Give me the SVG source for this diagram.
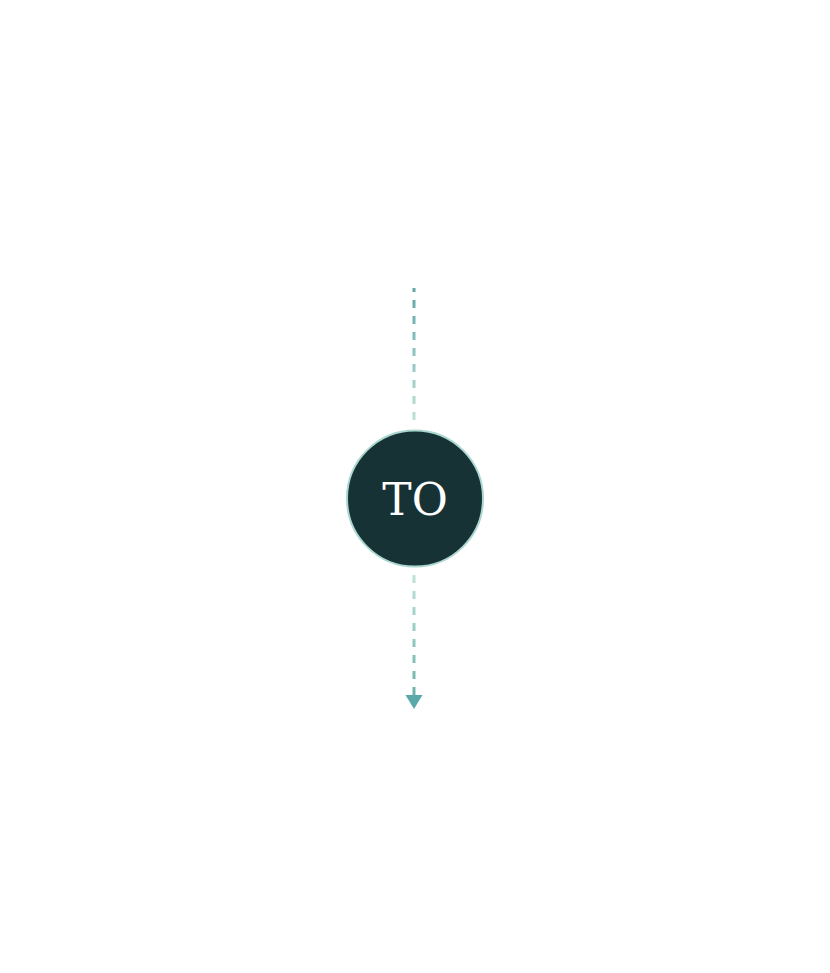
<svg xmlns="http://www.w3.org/2000/svg" width="830" height="973" viewBox="0 0 830 973">
  <style>
    .conn { fill: none; stroke-width: 3; stroke-dasharray: 8 8; }
    .node-circle { fill: #173235; stroke: #a9d6cf; stroke-width: 2; }
    .node-label { font-family: "DejaVu Serif", serif; font-size: 44px; fill: #ffffff; text-anchor: middle; }
    .arrowhead { fill: #5aa8a8; }
  </style>
  <defs>
    <linearGradient id="gTop" gradientUnits="userSpaceOnUse" x1="0" y1="288" x2="0" y2="424">
      <stop offset="0" stop-color="#5ea7a6"/>
      <stop offset="1" stop-color="#bfe3da"/>
    </linearGradient>
    <linearGradient id="gBot" gradientUnits="userSpaceOnUse" x1="0" y1="575" x2="0" y2="690">
      <stop offset="0" stop-color="#bfe3da"/>
      <stop offset="1" stop-color="#6fb4ac"/>
    </linearGradient>
  </defs>
  <rect width="830" height="973" fill="#ffffff"/>
  <g id="connectors">
    <path class="conn" d="M414,288 L414.001,424" stroke="url(#gTop)" stroke-dashoffset="4"/>
    <path class="conn" d="M414,575 L414.001,695" stroke="url(#gBot)"/>
    <path class="arrowhead" d="M405.5,695 L422.5,695 L414,709 Z"/>
  </g>
  <g id="node-to">
    <circle class="node-circle" cx="415" cy="498.5" r="68"/>
    <text class="node-label" x="415" y="515">TO</text>
  </g>
</svg>
